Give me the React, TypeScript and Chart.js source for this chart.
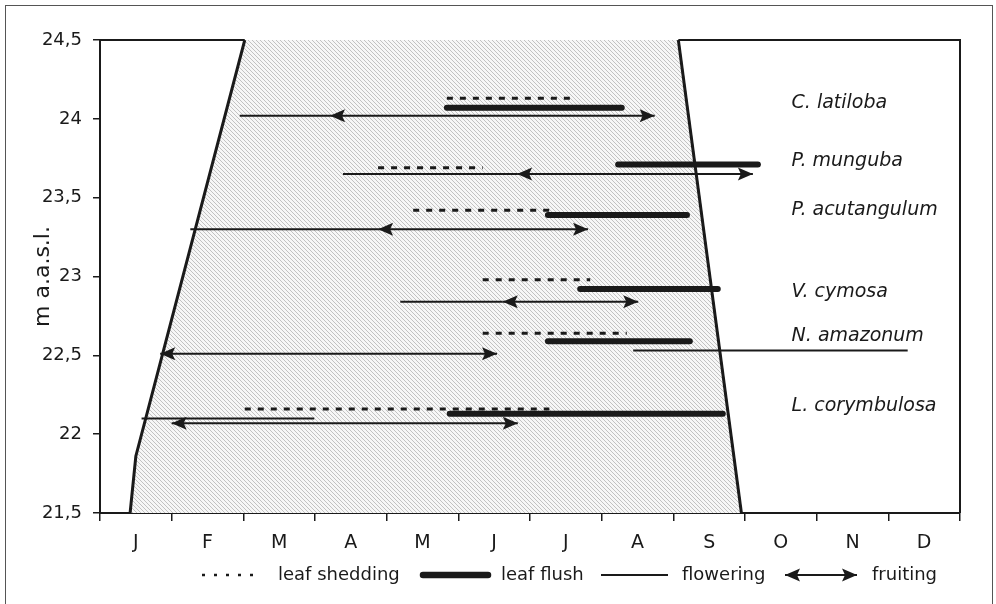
import React, { useEffect, useRef } from 'react';
import { Chart, registerables } from 'chart.js';

Chart.register(...registerables);

// ---------- data ----------
const months = ['J', 'F', 'M', 'A', 'M', 'J', 'J', 'A', 'S', 'O', 'N', 'D'];
const yTicks = [21.5, 22, 22.5, 23, 23.5, 24, 24.5];
const yTitle = 'm a.a.s.l.';

const species = ['C. latiloba', 'P. munguba', 'P. acutangulum', 'V. cymosa', 'N. amazonum', 'L. corymbulosa'];
const labelLevels = [24.1, 23.73, 23.42, 22.9, 22.62, 22.18];
const labelMonth = 9.65;

// flooded period boundary (month position, level)
const floodMonths = [0.42, 0.5, 2.02, 8.07, 8.95];
const floodLevels = [21.5, 21.86, 24.5, 24.5, 21.5];

// [start month, end month, level] in species order
const leafShedding = [
  [4.84, 6.65, 24.13],
  [3.88, 5.34, 23.69],
  [4.37, 6.32, 23.42],
  [5.34, 6.84, 22.98],
  [5.34, 7.35, 22.64],
  [2.02, 6.27, 22.16],
];
const leafFlush = [
  [4.84, 7.28, 24.07],
  [7.23, 9.18, 23.71],
  [6.25, 8.19, 23.39],
  [6.7, 8.62, 22.92],
  [6.25, 8.23, 22.59],
  [4.88, 8.69, 22.13],
];
const flowering = [
  [1.95, 3.21, 24.02],
  [3.39, 5.82, 23.65],
  [1.26, 3.88, 23.3],
  [4.19, 5.62, 22.84],
  [7.44, 11.27, 22.53],
  [0.58, 2.99, 22.1],
];
const fruiting = [
  [3.21, 7.74, 24.02],
  [5.82, 9.11, 23.65],
  [3.88, 6.81, 23.3],
  [5.62, 7.51, 22.84],
  [0.84, 5.54, 22.51],
  [1.0, 5.83, 22.07],
];
const legendLabels = ['leaf shedding', 'leaf flush', 'flowering', 'fruiting'];

// ---------- style ----------
const INK = '#1a1a1a';
const FONT = '"DejaVu Sans", "Liberation Sans", sans-serif';

function arrowHead(ctx: CanvasRenderingContext2D, x: number, y: number, dir: number) {
  const L = 15, W = 6.5, notch = 3;
  ctx.beginPath();
  ctx.moveTo(x, y);
  ctx.lineTo(x - dir * L, y - W);
  ctx.lineTo(x - dir * (L - notch), y);
  ctx.lineTo(x - dir * L, y + W);
  ctx.closePath();
  ctx.fill();
}

function makePattern(): CanvasPattern | string {
  const pc = document.createElement('canvas');
  pc.width = 4;
  pc.height = 4;
  const p = pc.getContext('2d');
  if (!p) return '#e6e6e6';
  p.fillStyle = '#f7f7f7';
  p.fillRect(0, 0, 4, 4);
  p.fillStyle = '#c2c2c2';
  for (let i = 0; i < 4; i++) p.fillRect(i, i, 1, 1);
  return p.createPattern(pc, 'repeat') || '#e6e6e6';
}

const decor = {
  id: 'decor',
  afterDatasetsDraw(chart: any) {
    const { ctx, chartArea: a, scales } = chart;
    const xs = scales.x, ys = scales.y;
    ctx.save();
    // frame: top (outside flooded span) and right side
    ctx.strokeStyle = INK;
    ctx.lineWidth = 2;
    ctx.beginPath();
    ctx.moveTo(a.left, a.top);
    ctx.lineTo(xs.getPixelForValue(floodMonths[2]), a.top);
    ctx.moveTo(xs.getPixelForValue(floodMonths[3]), a.top);
    ctx.lineTo(a.right, a.top);
    ctx.lineTo(a.right, a.bottom);
    ctx.stroke();
    // arrowheads for fruiting
    ctx.fillStyle = INK;
    chart.data.datasets.forEach((ds: any, i: number) => {
      if (ds.phase !== 'fruiting') return;
      const pts = chart.getDatasetMeta(i).data;
      arrowHead(ctx, pts[0].x, pts[0].y, -1);
      arrowHead(ctx, pts[1].x, pts[1].y, 1);
    });
    // species labels
    ctx.font = `italic 19px ${FONT}`;
    ctx.textAlign = 'left';
    ctx.textBaseline = 'middle';
    species.forEach((s, i) => {
      ctx.fillText(s, xs.getPixelForValue(labelMonth), ys.getPixelForValue(labelLevels[i]));
    });
    ctx.restore();
  },
  afterDraw(chart: any) {
    const { ctx } = chart;
    const ly = 575;
    ctx.save();
    ctx.strokeStyle = INK;
    ctx.fillStyle = INK;
    ctx.font = `18px ${FONT}`;
    ctx.textBaseline = 'middle';
    ctx.textAlign = 'left';
    const line = (x0: number, x1: number) => {
      ctx.beginPath();
      ctx.moveTo(x0, ly);
      ctx.lineTo(x1, ly);
      ctx.stroke();
    };
    // leaf shedding
    ctx.lineWidth = 2.5;
    ctx.setLineDash([3, 9]);
    line(202, 262);
    ctx.setLineDash([]);
    ctx.fillText(legendLabels[0], 278, ly);
    // leaf flush
    ctx.lineWidth = 6.5;
    ctx.lineCap = 'round';
    line(423, 488);
    ctx.lineCap = 'butt';
    ctx.fillText(legendLabels[1], 501, ly);
    // flowering
    ctx.lineWidth = 2;
    line(601, 668);
    ctx.fillText(legendLabels[2], 682, ly);
    // fruiting
    line(785, 857);
    arrowHead(ctx, 785, ly, -1);
    arrowHead(ctx, 857, ly, 1);
    ctx.fillText(legendLabels[3], 872, ly);
    ctx.restore();
  },
};

export default function App() {
  const ref = useRef<HTMLCanvasElement | null>(null);

  useEffect(() => {
    if (!ref.current) return;
    const pattern = makePattern();
    const pts = (ms: number[], ls: number[]) => ms.map((m, i) => ({ x: m, y: ls[i] }));
    const seg = (r: number[], extra: any) => ({
      data: [
        { x: r[0], y: r[2] },
        { x: r[1], y: r[2] },
      ],
      xAxisID: 'x',
      yAxisID: 'y',
      pointRadius: 0,
      borderColor: INK,
      fill: false,
      tension: 0,
      order: 0,
      ...extra,
    });
    const boundary = (ms: number[], ls: number[]) => ({
      data: pts(ms, ls),
      xAxisID: 'x',
      yAxisID: 'y',
      pointRadius: 0,
      borderColor: INK,
      borderWidth: 3,
      fill: false,
      tension: 0,
      order: 5,
    });
    const datasets: any[] = [
      ...leafShedding.map((r) => seg(r, { borderWidth: 3, borderDash: [6, 7] })),
      ...leafFlush.map((r) => seg(r, { borderWidth: 6, borderCapStyle: 'round' })),
      ...flowering.map((r) => seg(r, { borderWidth: 2 })),
      ...fruiting.map((r) => seg(r, { borderWidth: 2, phase: 'fruiting' })),
      // flood boundaries (rising and falling limb)
      boundary(floodMonths.slice(0, 3), floodLevels.slice(0, 3)),
      boundary(floodMonths.slice(3), floodLevels.slice(3)),
      // flooded area
      {
        data: pts(floodMonths, floodLevels),
        xAxisID: 'x',
        yAxisID: 'y',
        pointRadius: 0,
        borderWidth: 0,
        borderColor: 'rgba(0,0,0,0)',
        fill: 'start',
        backgroundColor: pattern,
        order: 10,
        tension: 0,
      },
    ];

    const chart = new Chart(ref.current, {
      type: 'line',
      data: { datasets },
      options: {
        responsive: false,
        animation: false,
        events: [],
        layout: { padding: { left: 0, right: 36, top: 40, bottom: 41 } },
        plugins: { legend: { display: false }, tooltip: { enabled: false } },
        scales: {
          x: { type: 'linear', min: 0, max: 12, display: false },
          months: {
            type: 'category',
            labels: months,
            position: 'bottom',
            offset: true,
            z: 1,
            grid: { offset: true, drawOnChartArea: false, drawTicks: true, tickLength: 8, color: INK, lineWidth: 1.5 },
            border: { display: true, color: INK, width: 2 },
            ticks: { color: INK, font: { family: FONT, size: 19 }, padding: 11, autoSkip: false, maxRotation: 0 },
            afterFit: (s: any) => {
              s.height = 50;
            },
          },
          y: {
            type: 'linear',
            min: 21.5,
            max: 24.5,
            position: 'left',
            z: 1,
            afterBuildTicks: (s: any) => {
              s.ticks = yTicks.map((v) => ({ value: v }));
            },
            afterFit: (s: any) => {
              s.width = 100;
            },
            grid: { drawOnChartArea: false, tickLength: 7, color: INK, lineWidth: 1.5 },
            border: { color: INK, width: 2 },
            ticks: {
              color: INK,
              font: { family: FONT, size: 18 },
              padding: 11,
              callback: (v: any) => String(v).replace('.', ','),
            },
            title: {
              display: true,
              text: yTitle,
              color: INK,
              font: { family: FONT, size: 22 },
              padding: { top: 30, bottom: 0 },
            },
          },
        },
      } as any,
      plugins: [decor],
    });
    return () => chart.destroy();
  }, []);

  return (
    <div style={{ position: 'absolute', left: 0, top: 0, width: 996, height: 604, overflow: 'hidden', background: '#fff' }}>
      <div
        style={{
          position: 'absolute',
          left: 5,
          top: 5,
          width: 986,
          height: 640,
          border: '1.5px solid #555',
        }}
      />
      <canvas ref={ref} width={996} height={604} style={{ position: 'absolute', left: 0, top: 0 }} />
    </div>
  );
}
